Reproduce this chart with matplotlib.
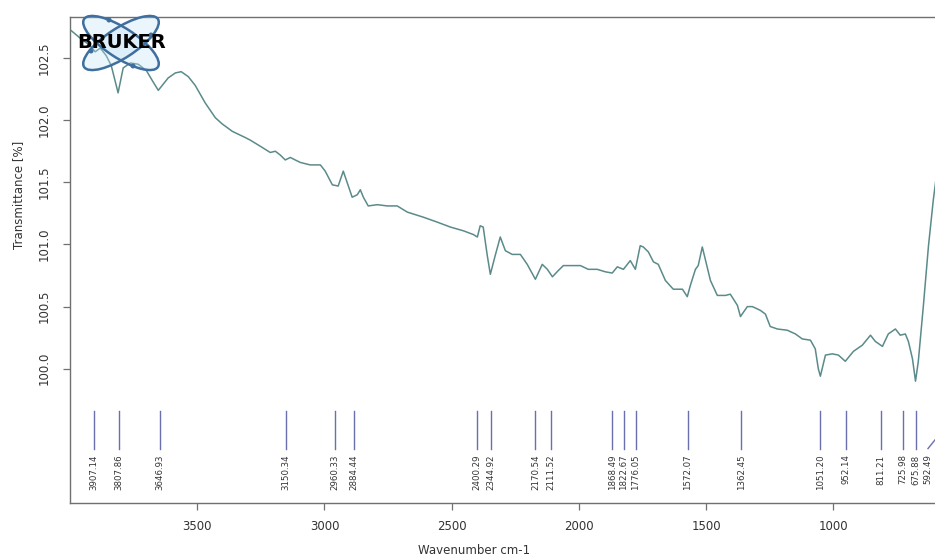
import matplotlib
matplotlib.use("Agg")
import matplotlib.pyplot as plt
import matplotlib.transforms as mtransforms
from matplotlib.patches import Ellipse
import numpy as np

# IR spectrum (wavenumber cm-1, transmittance %)
wavenumber = [3995, 3960, 3921, 3901, 3881, 3858, 3838, 3811, 3791, 3763,
              3732, 3700, 3677, 3653, 3614, 3586, 3563, 3535, 3508, 3469,
              3429, 3402, 3362, 3311, 3292, 3252, 3213, 3193, 3174, 3154,
              3134, 3115, 3095, 3056, 3016, 2997, 2969, 2946, 2926, 2906,
              2891, 2871, 2859, 2847, 2828, 2792, 2753, 2714, 2674, 2612,
              2557, 2505, 2454, 2415, 2399, 2388, 2376, 2360, 2348, 2329,
              2309, 2289, 2262, 2230, 2203, 2171, 2144, 2124, 2104, 2081,
              2061, 2022, 1994, 1963, 1928, 1896, 1869, 1849, 1825, 1798,
              1778, 1759, 1747, 1727, 1707, 1688, 1660, 1629, 1593, 1574,
              1562, 1542, 1531, 1515, 1503, 1483, 1456, 1424, 1405, 1377,
              1365, 1338, 1318, 1287, 1267, 1248, 1220, 1181, 1149, 1122,
              1090, 1071, 1059, 1051, 1031, 1004, 980, 953, 921, 886,
              854, 835, 807, 784, 756, 737, 717, 705, 689, 677,
              666, 646, 626, 607, 595, 580]
transmittance = [102.72, 102.66, 102.60, 102.55, 102.58, 102.52, 102.44, 102.22, 102.42, 102.46,
                 102.45, 102.40, 102.32, 102.24, 102.34, 102.38, 102.39, 102.35, 102.28, 102.14,
                 102.02, 101.97, 101.91, 101.86, 101.84, 101.79, 101.74, 101.75, 101.72, 101.68,
                 101.70, 101.68, 101.66, 101.64, 101.64, 101.59, 101.48, 101.47, 101.59, 101.47,
                 101.38, 101.40, 101.44, 101.38, 101.31, 101.32, 101.31, 101.31, 101.26, 101.22,
                 101.18, 101.14, 101.11, 101.08, 101.06, 101.15, 101.14, 100.91, 100.76, 100.91,
                 101.06, 100.95, 100.92, 100.92, 100.84, 100.72, 100.84, 100.80, 100.74, 100.79,
                 100.83, 100.83, 100.83, 100.80, 100.80, 100.78, 100.77, 100.82, 100.80, 100.87,
                 100.80, 100.99, 100.98, 100.94, 100.86, 100.84, 100.71, 100.64, 100.64, 100.58,
                 100.67, 100.80, 100.83, 100.98, 100.88, 100.71, 100.59, 100.59, 100.60, 100.51,
                 100.42, 100.50, 100.50, 100.47, 100.44, 100.34, 100.32, 100.31, 100.28, 100.24,
                 100.23, 100.16, 100.00, 99.94, 100.11, 100.12, 100.11, 100.06, 100.14, 100.19,
                 100.27, 100.22, 100.18, 100.28, 100.32, 100.27, 100.28, 100.22, 100.08, 99.90,
                 100.06, 100.51, 100.99, 101.36, 101.55, 101.75]

# peak picks
peaks = [3907.14, 3807.86, 3646.93, 3150.34, 2960.33, 2884.44, 2400.29, 2344.92,
         2170.54, 2111.52, 1868.49, 1822.67, 1776.05, 1572.07, 1362.45, 1051.20,
         952.14, 811.21, 725.98, 675.88, 592.49]

xticks = [3500, 3000, 2500, 2000, 1500, 1000]
yticks = [100.0, 100.5, 101.0, 101.5, 102.0, 102.5]

W, H = 935, 558
fig = plt.figure(figsize=(W / 100, H / 100), dpi=100)
# axes runs past the right edge of the picture (spectrum is cut off there)
ax = fig.add_axes([70 / W, 55 / H, 916 / W, 486 / H])

frame = "#707070"
ax.plot(wavenumber, transmittance, color="#5b8a8a", lw=1.1, zorder=3)
ax.set_xlim(4000, 400)
ax.set_ylim(98.92, 102.83)

ax.set_xticks(xticks)
ax.set_yticks(yticks)
ax.set_yticklabels([f"{v:.1f}" for v in yticks], rotation=90, va="center")
ax.tick_params(axis="both", direction="out", length=5, width=0.9, color=frame,
               labelsize=8.5, labelcolor="#333333")
ax.tick_params(axis="x", pad=7)
ax.tick_params(axis="y", pad=9)
for s in ax.spines.values():
    s.set_color(frame)
    s.set_linewidth(1.0)

ax.set_xlabel("Wavenumber cm-1", fontsize=8.5, color="#333333")
ax.xaxis.set_label_coords(0.441, -0.085)
ax.set_ylabel("Transmittance [%]", fontsize=8.5, color="#333333")
ax.yaxis.set_label_coords(-0.049, 0.634)

# peak markers below the spectrum
trans = mtransforms.blended_transform_factory(ax.transData, ax.transAxes)
right_visible = 606
for p in peaks:
    lx = max(p, right_visible + 22)
    ax.plot([p, p, lx], [0.19, 0.135, 0.112], color="#6a6fae", lw=1.0,
            transform=trans, clip_on=False)
    ax.text(lx, 0.10, f"{p:.2f}", rotation=90, ha="center", va="top",
            fontsize=6.2, color="#333333", transform=trans)

# Bruker logo in the upper-left corner (pixel coordinates)
pix = mtransforms.IdentityTransform()
cx, cy = 121, H - 43
for ang in (33, -33):
    fig.add_artist(Ellipse((cx, cy), 88, 30, angle=ang, facecolor="#c4e3f7",
                           alpha=0.35, transform=pix, zorder=4))
    fig.add_artist(Ellipse((cx, cy), 88, 30, angle=ang, fill=False,
                           edgecolor="#3f6f9f", lw=1.8, transform=pix, zorder=5))
for dx, dy in [(-12, 23), (12, -23), (-30, -8), (30, 8)]:
    fig.add_artist(Ellipse((cx + dx, cy + dy), 5, 5, facecolor="#3f6f9f",
                           transform=pix, zorder=6))
fig.text(122 / W, (H - 42) / H, "BRUKER", fontsize=14, fontweight="heavy",
         color="black", ha="center", va="center", zorder=7,
         family="DejaVu Sans")

fig.savefig("out.png", dpi=100)
